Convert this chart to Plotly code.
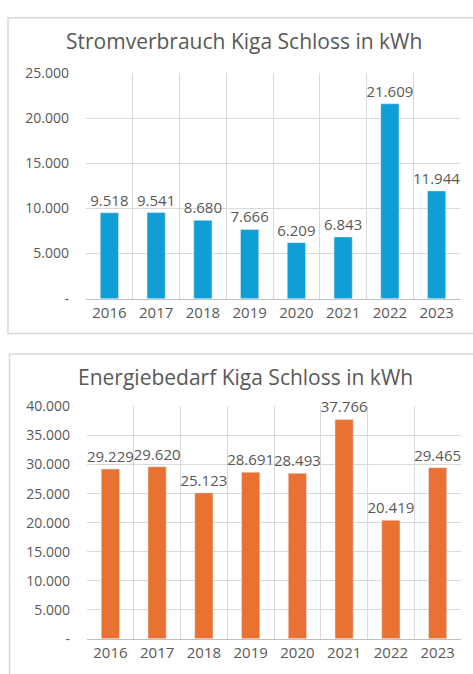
import plotly.graph_objects as go

years = ["2016", "2017", "2018", "2019", "2020", "2021", "2022", "2023"]
strom = [9518, 9541, 8680, 7666, 6209, 6843, 21609, 11944]
energie = [29229, 29620, 25123, 28691, 28493, 37766, 20419, 29465]

strom_ticks = [0, 5000, 10000, 15000, 20000, 25000]
strom_ticktext = ["-", "5.000", "10.000", "15.000", "20.000", "25.000"]
energie_ticks = [0, 5000, 10000, 15000, 20000, 25000, 30000, 35000, 40000]
energie_ticktext = ["-", "5.000", "10.000", "15.000", "20.000", "25.000", "30.000", "35.000", "40.000"]

title1 = "Stromverbrauch Kiga Schloss in kWh"
title2 = "Energiebedarf Kiga Schloss in kWh"

W, H = 473, 674
FONT = "Open Sans"
GREY = "#595959"
GRID = "#d9d9d9"

def px(x):
    return x / W

def py(y):
    return 1 - y / H

fig = go.Figure()
fig.add_trace(go.Bar(x=years, y=strom, marker_color="#0F9ED5", xaxis="x", yaxis="y",
                     text=strom, texttemplate="%{y:,}", textposition="outside",
                     constraintext="none",
                     cliponaxis=False, textfont=dict(size=15, color=GREY, family=FONT)))
fig.add_trace(go.Bar(x=years, y=energie, marker_color="#E97132", xaxis="x2", yaxis="y2",
                     text=energie, texttemplate="%{y:,}", textposition="outside",
                     constraintext="none",
                     cliponaxis=False, textfont=dict(size=15, color=GREY, family=FONT)))

xcommon = dict(type="category", tickson="boundaries", showgrid=True, gridcolor=GRID,
               gridwidth=1, showline=True, linecolor="#bfbfbf", linewidth=1,
               ticks="", range=[-0.5, 7.5], tickfont=dict(size=15, color=GREY, family=FONT),
               fixedrange=True)
ycommon = dict(showgrid=True, gridcolor=GRID, gridwidth=1, zeroline=False, showline=False,
               ticks="", tickfont=dict(size=14, color=GREY, family=FONT), ticklabelstandoff=16,
               fixedrange=True)

fig.update_layout(
    width=W, height=H, margin=dict(l=0, r=0, t=0, b=0),
    paper_bgcolor="white", plot_bgcolor="white", showlegend=False,
    separators=",.", bargap=0.61,
    font=dict(family=FONT, color=GREY),
    xaxis=dict(xcommon, domain=[px(86), px(460)], anchor="y"),
    yaxis=dict(ycommon, domain=[py(297), py(65)], range=[0, 25000],
               tickvals=strom_ticks, ticktext=strom_ticktext, anchor="x"),
    xaxis2=dict(xcommon, domain=[px(87), px(461)], anchor="y2"),
    yaxis2=dict(ycommon, domain=[py(647), py(408)], range=[0, 40000],
                tickvals=energie_ticks, ticktext=energie_ticktext, anchor="x2"),
    shapes=[
        dict(type="rect", xref="paper", yref="paper", x0=px(8), x1=px(480), y0=py(333), y1=py(8),
             line=dict(color=GRID, width=1.5), layer="below"),
        dict(type="rect", xref="paper", yref="paper", x0=px(9.5), x1=px(480), y0=py(690), y1=py(354),
             line=dict(color=GRID, width=1.5), layer="below"),
    ],
    annotations=[
        dict(text=title1, xref="paper", yref="paper", x=px(244), y=py(32), showarrow=False,
             xanchor="center", yanchor="middle", font=dict(size=21, color=GREY, family=FONT)),
        dict(text=title2, xref="paper", yref="paper", x=px(245), y=py(378), showarrow=False,
             xanchor="center", yanchor="middle", font=dict(size=21, color=GREY, family=FONT)),
    ],
)

fig.write_html("out.html", config={"displayModeBar": False},
               post_script="document.body.style.margin='0';document.body.style.overflow='hidden';")
